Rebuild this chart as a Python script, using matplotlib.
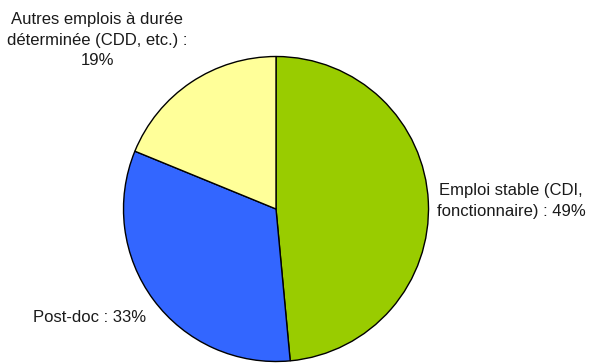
import matplotlib
matplotlib.use("Agg")
import matplotlib.pyplot as plt

labels = ["Emploi stable (CDI,\nfonctionnaire) : 49%", "Post-doc : 33%",
          "Autres emplois à durée\ndéterminée (CDD, etc.) :\n19%"]
values = [49, 33, 19]
colors = ["#99CC00", "#3366FF", "#FFFF99"]

W, H = 591, 363
fig = plt.figure(figsize=(W / 100, H / 100), dpi=100)
ax = fig.add_axes([0, 0, 1, 1])

ax.pie(values, colors=colors, startangle=90, counterclock=False,
       center=(276, H - 209), radius=152.5, frame=True,
       wedgeprops=dict(edgecolor="black", linewidth=1.0))
ax.set_xlim(0, W)
ax.set_ylim(0, H)
ax.set_aspect("auto")
ax.axis("off")

font = dict(family=["Liberation Sans", "DejaVu Sans"], fontsize=12, color="#1a1a1a",
            linespacing=1.42)
ax.text(511, H - 201, labels[0], ha="center", va="center", **font)
ax.text(90, H - 317, labels[1], ha="center", va="center", **font)
ax.text(97, H - 40, labels[2], ha="center", va="center", **font)

fig.savefig("out.png", dpi=100)
